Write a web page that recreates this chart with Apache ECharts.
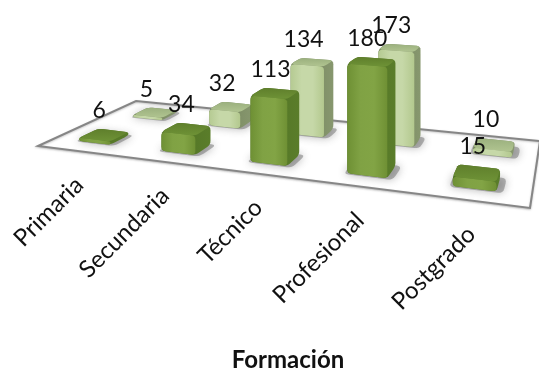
<!DOCTYPE html>
<html><head><meta charset="utf-8">
<style>html,body{margin:0;padding:0;background:#fff}#c{width:539px;height:373px}</style>
<script src="https://cdn.jsdelivr.net/npm/echarts@6/dist/echarts.min.js"></script>
</head><body><div id="c"></div>
<script>
const categories = ['Primaria', 'Secundaria', 'Técnico', 'Profesional', 'Postgrado'];
const frontValues = [6, 34, 113, 180, 15];
const backValues = [5, 32, 134, 173, 10];
const axisTitle = 'Formación';

// Floor quadrilateral on screen: back-left, back-right, front-right, front-left
const Q = [[136, 101], [540, 141], [530, 208], [38, 146]];
const FONT = 'Lato, "Open Sans", sans-serif';

// Perspective map from the unit square of the floor onto the quadrilateral
const H = (function () {
  const [[x0, y0], [x1, y1], [x2, y2], [x3, y3]] = Q;
  const sx = x0 - x1 + x2 - x3, sy = y0 - y1 + y2 - y3;
  const dx1 = x1 - x2, dx2 = x3 - x2, dy1 = y1 - y2, dy2 = y3 - y2;
  const den = dx1 * dy2 - dx2 * dy1;
  const g = (sx * dy2 - dx2 * sy) / den, h = (dx1 * sy - sx * dy1) / den;
  return { a: x1 - x0 + g * x1, b: x3 - x0 + h * x3, c: x0,
           d: y1 - y0 + g * y1, e: y3 - y0 + h * y3, f: y0, g, h };
})();
function project(u, v, lift) {
  const w = H.g * u + H.h * v + 1;
  return [(H.a * u + H.b * v + H.c) / w, (H.d * u + H.e * v + H.f) / w - (lift || 0) / w];
}

// Polygon with its corners cut by small curves
function rounded(pts, r) {
  const out = [], n = pts.length;
  for (let i = 0; i < n; i++) {
    const p = pts[i], a = pts[(i + n - 1) % n], b = pts[(i + 1) % n];
    const la = Math.hypot(a[0] - p[0], a[1] - p[1]) || 1, lb = Math.hypot(b[0] - p[0], b[1] - p[1]) || 1;
    const ra = Math.min(r, la / 2.2), rb = Math.min(r, lb / 2.2);
    const s = [p[0] + (a[0] - p[0]) * ra / la, p[1] + (a[1] - p[1]) * ra / la];
    const e = [p[0] + (b[0] - p[0]) * rb / lb, p[1] + (b[1] - p[1]) * rb / lb];
    for (let t = 0; t <= 1.001; t += 0.25) {
      const m = 1 - t;
      out.push([m * m * s[0] + 2 * m * t * p[0] + t * t * e[0], m * m * s[1] + 2 * m * t * p[1] + t * t * e[1]]);
    }
  }
  return out;
}
function grad(stops, x2, y2) {
  return { type: 'linear', x: 0, y: 0, x2, y2,
    colorStops: stops.map((c, i) => ({ offset: i / (stops.length - 1), color: c })) };
}

const BAR_HALF_U = 0.039, BAR_HALF_V = 0.09;
const PALETTE = {
  front: { face: ['#6e9034', '#80a244', '#82a445', '#6f9034'], top: ['#5f7f2c', '#6e9236'], side: ['#4f6f24', '#5a7d2a'] },
  back: { face: ['#b5ca92', '#c6d8a8', '#c6d8a8', '#b3c88e'], top: ['#9bb07e', '#b0c490'], side: ['#6f7f58', '#87976e'] }
};
// Floor position of each row of bars, and where its value labels sit
const FRONT_ROW = { u: 0, v: 0.76, labelDx: 20 }, BACK_ROW = { u: 0.012, v: 0.25, labelDx: 13 };

function barRenderer(rowPos, colours) {
  return function (params, api) {
    const cs = params.coordSys;
    const px = api.coord([api.value(0), 0]), py = api.coord([api.value(0), api.value(1)]);
    const u = (px[0] - cs.x) / cs.width + rowPos.u, lift = px[1] - py[1];
    const u0 = u - BAR_HALF_U, u1 = u + BAR_HALF_U, v0 = rowPos.v - BAR_HALF_V, v1 = rowPos.v + BAR_HALF_V;
    const bFL = project(u0, v1), bFR = project(u1, v1), bBR = project(u1, v0);
    const tFL = project(u0, v1, lift), tFR = project(u1, v1, lift), tBR = project(u1, v0, lift), tBL = project(u0, v0, lift);
    const r = 4;
    const children = [
      { type: 'polygon', shape: { points: rounded([project(u0 - 0.006, v1 + 0.015), project(u1 + 0.012, v1 + 0.015), project(u1 + 0.012, v0 - 0.01), project(u0 - 0.006, v0 - 0.01)], 5) },
        style: { fill: 'rgba(110,110,110,0.5)', shadowBlur: 9, shadowColor: 'rgba(80,80,80,0.8)' } },
      { type: 'polygon', shape: { points: rounded([bFL, bFR, bBR, tBR, tBL, tFL], r) },
        style: { fill: grad(colours.side, 1, 0) } },
      { type: 'polygon', shape: { points: rounded([tFL, tFR, tBR, tBL], r) },
        style: { fill: grad(colours.top, 0, 1) } },
      { type: 'polygon', shape: { points: rounded([tFL, tFR, bFR, bFL], Math.min(r, lift / 2 + 1)) },
        style: { fill: grad(colours.face, 1, 0) } }
    ];
    return { type: 'group', children };
  };
}

function labelRenderer(rowPos) {
  return function (params, api) {
    const cs = params.coordSys;
    const px = api.coord([api.value(0), 0]), py = api.coord([api.value(0), api.value(1)]);
    const u = (px[0] - cs.x) / cs.width + rowPos.u, lift = px[1] - py[1];
    const left = project(u - BAR_HALF_U, rowPos.v + BAR_HALF_V, lift);
    const back = project(u - BAR_HALF_U, rowPos.v - BAR_HALF_V, lift);
    return { type: 'text', x: left[0] + rowPos.labelDx, y: back[1] - 18,
      style: { text: String(api.value(1)), fill: '#111', font: '23px ' + FONT, textAlign: 'center', textVerticalAlign: 'middle' } };
  };
}

function row(values) { return values.map((v, i) => [i, v]); }
function custom(name, data, renderItem, z) {
  return { type: 'custom', name, data, renderItem, z, encode: { x: 0, y: 1 }, clip: false, silent: true };
}

const option = {
  animation: false,
  backgroundColor: '#fff',
  title: { text: axisTitle, left: 283, top: 343, textAlign: 'center',
    textStyle: { fontFamily: FONT, fontWeight: 'bold', fontSize: 24, color: '#111' } },
  grid: { left: 40, width: 460, top: 20, height: 90 },
  xAxis: { type: 'category', data: categories, show: false },
  yAxis: { type: 'value', min: 0, max: 200, show: false },
  series: [
    custom('Piso', [[0, 0]], function () {
      return { type: 'polygon', shape: { points: Q },
        style: { fill: '#fff', stroke: '#868686', lineWidth: 2, lineJoin: 'miter', shadowBlur: 2, shadowColor: 'rgba(120,120,120,0.4)', shadowOffsetY: 1 } };
    }, 1),
    custom('Serie posterior', row(backValues), barRenderer(BACK_ROW, PALETTE.back), 2),
    custom('Serie frontal', row(frontValues), barRenderer(FRONT_ROW, PALETTE.front), 3),
    custom('Etiquetas posterior', row(backValues), labelRenderer(BACK_ROW), 4),
    custom('Etiquetas frontal', row(frontValues), labelRenderer(FRONT_ROW), 4),
    custom('Categorías', row(categories.map(() => 0)), function (params, api) {
      const cs = params.coordSys;
      const u = (api.coord([api.value(0), 0])[0] - cs.x) / cs.width;
      const p = project(u, 1);
      return { type: 'text', x: p[0] + 1, y: p[1] + 30, rotation: Math.PI / 4,
        style: { text: categories[api.value(0)], fill: '#111', font: '24px ' + FONT, textAlign: 'right', textVerticalAlign: 'middle' } };
    }, 4)
  ]
};
echarts.init(document.getElementById('c'), null, { renderer: 'canvas' }).setOption(option);
</script></body></html>
